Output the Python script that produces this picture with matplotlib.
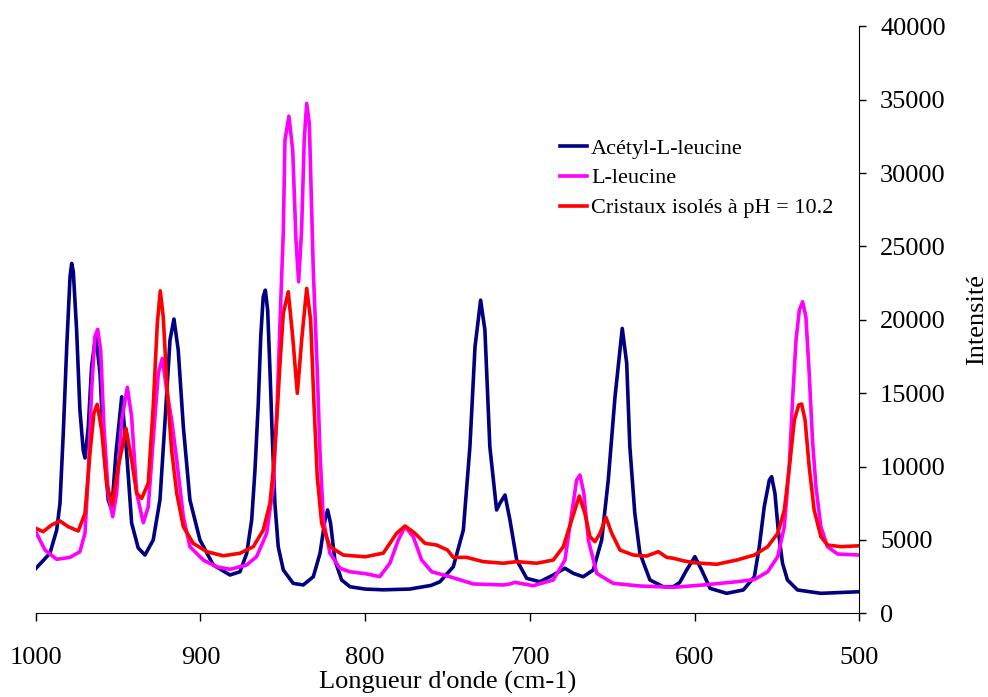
import numpy as np
import matplotlib
matplotlib.use('Agg')
import matplotlib.pyplot as plt

plt.rcParams['font.family'] = ['Liberation Serif', 'DejaVu Serif']

# Acétyl-L-leucine (wavenumber, intensity)
acetyl_x = [1000, 991.4, 987.3, 985.3, 983.3, 981.2, 979.2, 978.2, 977.2, 975.2, 973.2, 971.2,
            970.1, 968.1, 966.1, 963.6, 961.0, 959.0, 956.0, 953.9, 951.3, 947.8, 944.8, 941.8,
            937.8, 933.7, 928.7, 924.6, 921.6, 918.5, 916.1, 913.5, 910.4, 906.4, 900.3, 892.2,
            882.1, 876.0, 871.9, 868.9, 866.9, 864.9, 863.4, 861.9, 860.6, 859.2, 857.8, 856.4,
            854.8, 852.8, 849.7, 843.7, 837.6, 831.5, 827.4, 824.4, 822.8, 821.0, 818.4, 814.3,
            809.2, 800.0, 789.0, 773.0, 760.0, 754.6, 746.5, 740.4, 736.4, 733.3, 729.9, 727.3,
            724.3, 720.2, 718.2, 715.1, 712.1, 708.0, 701.9, 693.9, 685.8, 678.7, 673.6, 667.6,
            661.5, 656.4, 652.4, 648.3, 643.9, 641.2, 639.3, 636.3, 633.2, 627.1, 619.0, 612.9,
            609.0, 604.8, 599.8, 595.7, 590.6, 580.5, 570.4, 563.7, 560.7, 557.7, 554.6, 553.2,
            551.2, 549.2, 546.6, 543.6, 537.5, 523.3, 500]
acetyl_y = [3050, 4090, 5670, 7490, 12260, 18160, 22930, 23840, 23270, 19300, 13850, 11120,
            10580, 12710, 16800, 18960, 16370, 11800, 7720, 7040, 10920, 14750, 10900, 6150,
            4450, 3970, 4990, 7720, 12960, 18620, 20050, 17940, 12710, 7720, 4990, 3290,
            2610, 2830, 4090, 6360, 9760, 14300, 18840, 21570, 22020, 20660, 16570, 12030,
            7490, 4540, 2950, 2040, 1930, 2490, 4090, 6360, 7040, 6130, 3630, 2270,
            1810, 1650, 1600, 1650, 1900, 2150, 3170, 5670, 11350, 18160, 21340, 19300,
            11350, 7040, 7490, 8060, 6360, 3630, 2380, 2150, 2610, 3070, 2720, 2490,
            2950, 4990, 9080, 14750, 19410, 17030, 11350, 6830, 4100, 2270, 1810, 1810,
            2100, 2950, 3860, 2950, 1700, 1360, 1590, 2490, 4540, 7260, 9080, 9310,
            8170, 5670, 3410, 2270, 1590, 1360, 1470]

# L-leucine
leucine_x = [1000, 994.4, 987.3, 979.2, 973.2, 970.1, 968.1, 966.1, 964.1, 962.4, 960.6, 958.6,
             956.0, 953.3, 950.9, 947.8, 944.4, 941.8, 938.7, 934.7, 931.7, 928.7, 925.6, 923.2,
             920.5, 917.5, 914.4, 910.4, 906.4, 898.3, 890.2, 882.1, 872.0, 865.9, 859.8, 855.8,
             853.4, 851.3, 849.7, 848.7, 846.3, 844.0, 842.0, 840.4, 838.6, 837.0, 835.5, 833.9,
             831.5, 829.1, 827.4, 825.4, 821.4, 815.3, 809.2, 800.0, 791.1, 785.0, 779.9, 775.8,
             770.8, 765.7, 759.6, 748.5, 734.4, 716.2, 712.0, 709.1, 698.0, 685.8, 678.7, 674.6,
             671.6, 669.6, 667.2, 664.5, 659.4, 649.4, 633.2, 612.9, 594.7, 574.4, 563.7, 555.6,
             549.5, 545.5, 542.4, 540.4, 538.4, 536.4, 534.4, 532.4, 530.4, 528.4, 526.3, 523.3,
             519.3, 513.2, 500]
leucine_y = [5560, 4310, 3680, 3810, 4200, 5450, 9540, 15210, 18840, 19350, 17940, 12710,
             8170, 6580, 8170, 13170, 15400, 13390, 8170, 6170, 7260, 11800, 16350, 17370,
             15210, 13170, 10440, 6580, 4540, 3630, 3170, 3000, 3290, 3860, 5450, 8620,
             14300, 21120, 26000, 32240, 33880, 31560, 25430, 22590, 26110, 32240, 34740, 33380,
             23380, 16570, 10900, 6360, 4090, 3070, 2830, 2700, 2500, 3410, 4990, 5900,
             5220, 3630, 2830, 2490, 2000, 1930, 2000, 2110, 1880, 2270, 3630, 6810,
             9080, 9420, 8170, 4990, 2720, 2040, 1860, 1770, 1930, 2150, 2300, 2830,
             3860, 5900, 10220, 14750, 18620, 20660, 21230, 20200, 16350, 11800, 8620, 5900,
             4540, 4040, 3970]

# Cristaux isolés à pH = 10.2
cristaux_x = [1000, 995.5, 990.4, 985.3, 980.3, 974.2, 970.1, 967.1, 964.7, 962.7, 960.0, 957.0,
              953.6, 949.9, 945.2, 941.8, 938.7, 935.7, 931.7, 928.7, 926.2, 924.4, 922.6, 920.2,
              917.5, 914.4, 910.4, 904.4, 896.2, 886.2, 876.0, 867.9, 861.9, 857.8, 855.8, 853.7,
              851.7, 849.7, 846.7, 844.0, 841.2, 838.4, 835.5, 833.1, 831.1, 829.1, 826.4, 821.4,
              813.3, 800.0, 789.0, 780.9, 775.8, 769.8, 763.7, 756.6, 750.0, 746.5, 738.4, 728.3,
              716.2, 708.0, 695.9, 685.8, 679.7, 674.6, 670.0, 666.6, 663.5, 660.5, 657.4, 653.8,
              650.3, 645.3, 637.2, 629.1, 622.0, 616.9, 612.9, 606.9, 600.8, 586.6, 574.4, 563.7,
              555.6, 549.5, 545.5, 542.4, 539.4, 536.8, 535.0, 532.9, 530.4, 527.4, 523.3, 519.3,
              511.2, 500]
cristaux_y = [5790, 5560, 6020, 6290, 5900, 5610, 6810, 10900, 13620, 14240, 12490, 8860,
              7380, 9990, 12600, 10440, 8170, 7830, 8860, 14070, 19750, 21970, 20200, 15210,
              11120, 8170, 5900, 4770, 4200, 3920, 4090, 4540, 5670, 7490, 9760, 13170,
              17030, 20440, 21910, 18840, 14990, 18820, 22140, 19980, 14300, 9310, 6130, 4540,
              3970, 3850, 4100, 5450, 5950, 5450, 4770, 4650, 4310, 3810, 3810, 3520,
              3410, 3520, 3410, 3630, 4540, 6360, 7990, 6810, 5220, 4880, 5450, 6540,
              5450, 4310, 3970, 3900, 4200, 3810, 3750, 3580, 3450, 3340, 3630, 3970,
              4540, 5450, 7040, 9990, 13170, 14190, 14260, 13170, 9990, 7040, 5220, 4650,
              4540, 4600]

x_ticks = [1000, 900, 800, 700, 600, 500]
y_ticks = [0, 5000, 10000, 15000, 20000, 25000, 30000, 35000, 40000]

fig = plt.figure(figsize=(9.88, 6.97), dpi=100)
ax = fig.add_axes([0.0362, 0.1201, 0.8335, 0.8422])

lw = 2.6
ax.plot(acetyl_x, acetyl_y, color='#000080', lw=lw, label='Acétyl-L-leucine', solid_joinstyle='round')
ax.plot(leucine_x, leucine_y, color='#FF00FF', lw=lw, label='L-leucine', solid_joinstyle='round')
ax.plot(cristaux_x, cristaux_y, color='#FF0000', lw=lw, label='Cristaux isolés à pH = 10.2', solid_joinstyle='round')

ax.set_xlim(1000, 500)
ax.set_ylim(0, 40000)
ax.set_xticks(x_ticks)
ax.set_yticks(y_ticks)

ax.spines['left'].set_visible(False)
ax.spines['top'].set_visible(False)
ax.yaxis.tick_right()
ax.yaxis.set_label_position('right')
ax.tick_params(axis='x', direction='out', length=6, width=1, pad=18, labelsize=19)
ax.tick_params(axis='y', direction='out', length=5, width=1, pad=10, labelsize=19)

ax.set_xlabel("Longueur d'onde (cm-1)", fontsize=19, labelpad=2)
ax.set_ylabel('Intensité', fontsize=19, labelpad=14.5)

ax.legend(loc='upper left', bbox_to_anchor=(560 / 988, 1 - 138 / 697), bbox_transform=fig.transFigure,
          frameon=False, fontsize=16, handlelength=1.2, handletextpad=0.2,
          labelspacing=0.42, borderpad=0, borderaxespad=0)

fig.savefig('out.png', dpi=100)
